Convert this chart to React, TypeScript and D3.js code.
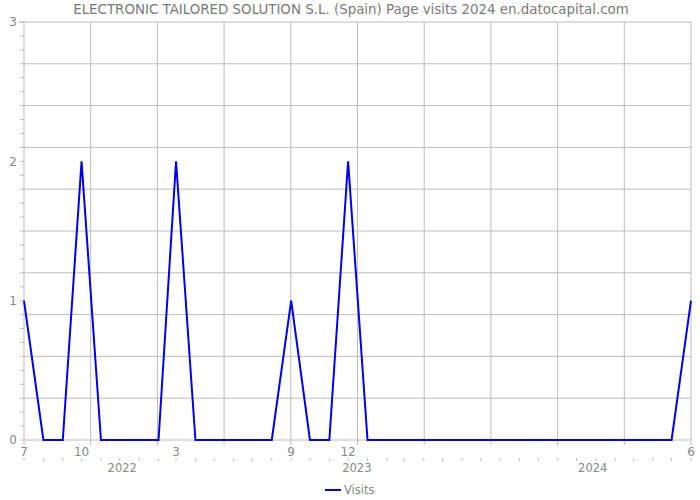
import React from "react";
import * as d3 from "d3";

const title = "ELECTRONIC TAILORED SOLUTION S.L. (Spain) Page visits 2024 en.datocapital.com";
const startMonth = "2021-07";
const visits = [1, 0, 0, 2, 0, 0, 0, 0, 2, 0, 0, 0, 0, 0, 1, 0, 0, 2, 0, 0, 0, 0, 0, 0, 0, 0, 0, 0, 0, 0, 0, 0, 0, 0, 0, 1];
const monthTickDates = ["2021-07-01", "2021-10-01", "2022-03-01", "2022-09-01", "2022-12-01", "2024-06-01"];
const yearLabels = ["2022", "2023", "2024"];
const yearLabelDates = ["2021-12-05", "2022-12-15", "2023-12-27"];
const yTicks = [0, 1, 2, 3];
const seriesName = "Visits";

const W = 700, H = 500;
const M = { left: 24, right: 9, top: 22, bottom: 60 };
const FONT = "DejaVu Sans";
const GRID = "#bdbdbd";
const TXT = "#888";

export default function App() {
  const parse = d3.timeParse("%Y-%m-%d");
  const start = parse(startMonth + "-01")!;
  const dates = visits.map((_, i) => d3.timeMonth.offset(start, i));
  const x = d3.scaleTime().domain([dates[0], dates[dates.length - 1]]).range([M.left, W - M.right]);
  const y = d3.scaleLinear().domain([0, 3]).range([H - M.bottom, M.top]);
  const line = d3.line<number>().x((_, i) => x(dates[i])).y((v) => y(v));
  const [x0, x1] = x.range();
  const y0 = y(0);
  const vGrid = d3.range(0, 11).map((i) => x0 + ((x1 - x0) * i) / 10);
  const hGrid = d3.range(1, 11).map((i) => y(0.3 * i));
  const yMinor = d3.range(0, 31).map((i) => y(i / 10));
  const allMonths = d3.timeMonth.range(dates[0], d3.timeMonth.offset(dates[dates.length - 1], 1));

  return (
    <svg width={W} height={H} style={{ position: "absolute", left: 0, top: 0 }} fontFamily={FONT}>
      <rect width={W} height={H} fill="#fff" />
      <text x={351} y={14} textAnchor="middle" fontSize={13.4} fill="#7a7a7a">{title}</text>
      {hGrid.map((g, i) => (
        <line key={"h" + i} x1={x0} x2={x1} y1={g} y2={g} stroke={GRID} strokeWidth={1} />
      ))}
      {vGrid.map((g, i) => (
        <line key={"v" + i} x1={g} x2={g} y1={M.top} y2={y0 + 5} stroke={GRID} strokeWidth={1} />
      ))}
      {yMinor.map((g, i) => (
        <line key={"ym" + i} x1={x0 - 4} x2={x0} y1={g} y2={g} stroke={GRID} strokeWidth={1} />
      ))}
      <line x1={x0} x2={x1} y1={y0} y2={y0} stroke={GRID} strokeWidth={1} />
      <line x1={x0 - 6} x2={x0} y1={y(3)} y2={y(3)} stroke={GRID} strokeWidth={1} />
      {allMonths.map((d, i) => (
        <line key={"xm" + i} x1={x(d)} x2={x(d)} y1={y0 + 18} y2={y0 + 21} stroke={GRID} strokeWidth={1} />
      ))}
      {yTicks.map((t) => (
        <text key={"yt" + t} x={x0 - 7} y={y(t)} dy="0.35em" textAnchor="end" fontSize={12} fill={TXT}>{t}</text>
      ))}
      {monthTickDates.map((s) => {
        const d = parse(s)!;
        return (
          <text key={"mt" + s} x={x(d)} y={y0 + 16} textAnchor="middle" fontSize={12} fill={TXT}>{d.getMonth() + 1}</text>
        );
      })}
      {yearLabels.map((l, i) => (
        <text key={"yl" + l} x={x(parse(yearLabelDates[i])!)} y={y0 + 32} textAnchor="middle" fontSize={11.5} fill={TXT}>{l}</text>
      ))}
      <path d={line(visits)!} fill="none" stroke="#0000ee" strokeWidth={2} strokeLinejoin="miter" />
      <line x1={325} x2={341} y1={490} y2={490} stroke="#0000ee" strokeWidth={2} />
      <text x={344} y={494} fontSize={11.5} fill={TXT}>{seriesName}</text>
    </svg>
  );
}
